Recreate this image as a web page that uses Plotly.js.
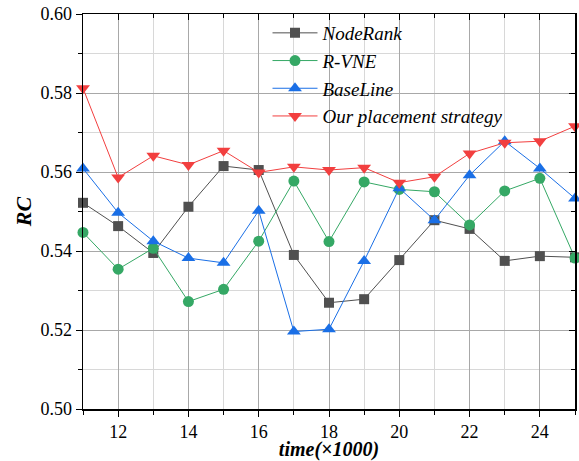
<!DOCTYPE html>
<html>
<head>
<meta charset="utf-8">
<script src="https://cdn.plot.ly/plotly-3.0.1.min.js"></script>
<style>html,body{margin:0;padding:0;background:#fff;}#chart{width:579px;height:461px;}</style>
</head>
<body>
<div id="chart"></div>
<script>
const timeK = [11,12,13,14,15,16,17,18,19,20,21,22,23,24,25];
const nodeRank = [0.5522,0.5463,0.5395,0.5512,0.5615,0.5605,0.5390,0.5269,0.5278,0.5377,0.5478,0.5456,0.5375,0.5387,0.5384];
const rVNE = [0.5447,0.5354,0.5407,0.5272,0.5303,0.5425,0.5577,0.5424,0.5575,0.5556,0.5550,0.5466,0.5552,0.5584,0.5382];
const baseLine = [0.5609,0.5497,0.5425,0.5382,0.5370,0.5502,0.5196,0.5202,0.5375,0.5559,0.5478,0.5592,0.5678,0.5609,0.5533];
const ours = [0.5812,0.5586,0.5641,0.5618,0.5654,0.5599,0.5613,0.5605,0.5611,0.5573,0.5588,0.5647,0.5674,0.5678,0.5716];
const seriesNames = ['NodeRank','R-VNE','BaseLine','Our placement strategy'];
const xTickVals = [12,14,16,18,20,22,24];
const yTickVals = [0.50,0.52,0.54,0.56,0.58,0.60];
const xRange = [11,25];
const yRange = [0.50,0.60];

const colors = ['#505050','#35a865','#1a6fe6','#f23f3f'];
const symbols = ['square','circle','triangle-up','triangle-down'];
const sizes = [10,11,12,12];
const data = [nodeRank, rVNE, baseLine, ours].map((ys,i)=>({
  x: timeK, y: ys, name: seriesNames[i], type:'scatter', mode:'lines+markers',
  line:{color:colors[i], width:1},
  marker:{color:colors[i], symbol:symbols[i], size:sizes[i], line:{width:0}},
  cliponaxis:false
}));
// empty trace so the mirrored (inside-tick) top/right axes are drawn
data.push({x:[], y:[], xaxis:'x2', yaxis:'y2', type:'scatter', showlegend:false, hoverinfo:'skip'});

const FAM = 'Liberation Serif';
const layout = {
  width:579, height:461,
  margin:{l:83, r:4, t:14, b:52},
  paper_bgcolor:'#fff', plot_bgcolor:'#fff',
  font:{family:FAM, size:18, color:'#000'},
  showlegend:true,
  legend:{x:0.375, y:1.0, xanchor:'left', yanchor:'top', bgcolor:'rgba(0,0,0,0)',
    font:{family:FAM, size:19, color:'#000', style:'italic'}, tracegroupgap:0, itemwidth:45},
  xaxis:{range:xRange, tickmode:'array', tickvals:xTickVals, ticktext:xTickVals.map(String),
    showgrid:true, gridcolor:'#a8a8a8', gridwidth:1,
    minor:{dtick:1, tick0:11, showgrid:true, gridcolor:'#d8d8d8', gridwidth:1, ticks:'outside', ticklen:4, tickcolor:'#000'},
    showline:true, linecolor:'#000', linewidth:1.5, mirror:true,
    ticks:'outside', ticklen:6, tickcolor:'#000', tickwidth:1,
    zeroline:false, tickfont:{family:FAM, size:18, color:'#000'},
    title:{text:'<b><i>time(×1000)</i></b>', font:{family:FAM, size:20, color:'#000'}, standoff:8}},
  yaxis:{range:yRange, tickmode:'array', tickvals:yTickVals, ticktext:yTickVals.map(v=>v.toFixed(2)),
    showgrid:true, gridcolor:'#a8a8a8', gridwidth:1,
    minor:{dtick:0.01, tick0:0.5, showgrid:true, gridcolor:'#d8d8d8', gridwidth:1, ticks:'outside', ticklen:4, tickcolor:'#000'},
    showline:true, linecolor:'#000', linewidth:1.5, mirror:true,
    ticks:'outside', ticklen:6, tickcolor:'#000', tickwidth:1,
    zeroline:false, tickfont:{family:FAM, size:18, color:'#000'},
    title:{text:'<b><i>RC</i></b>', font:{family:FAM, size:22, color:'#000'}, standoff:2}},
  xaxis2:{overlaying:'x', side:'top', range:xRange, tickmode:'array', tickvals:xTickVals,
    showticklabels:false, showgrid:false, zeroline:false, showline:false,
    ticks:'inside', ticklen:6, tickcolor:'#000', tickwidth:1,
    minor:{dtick:1, tick0:11, ticks:'inside', ticklen:4, tickcolor:'#000', showgrid:false}},
  yaxis2:{overlaying:'y', side:'right', range:yRange, tickmode:'array', tickvals:yTickVals,
    showticklabels:false, showgrid:false, zeroline:false, showline:false,
    ticks:'inside', ticklen:6, tickcolor:'#000', tickwidth:1,
    minor:{dtick:0.01, tick0:0.5, ticks:'inside', ticklen:4, tickcolor:'#000', showgrid:false}}
};
Plotly.newPlot('chart', data, layout, {displayModeBar:false, staticPlot:true});
</script>
</body>
</html>
